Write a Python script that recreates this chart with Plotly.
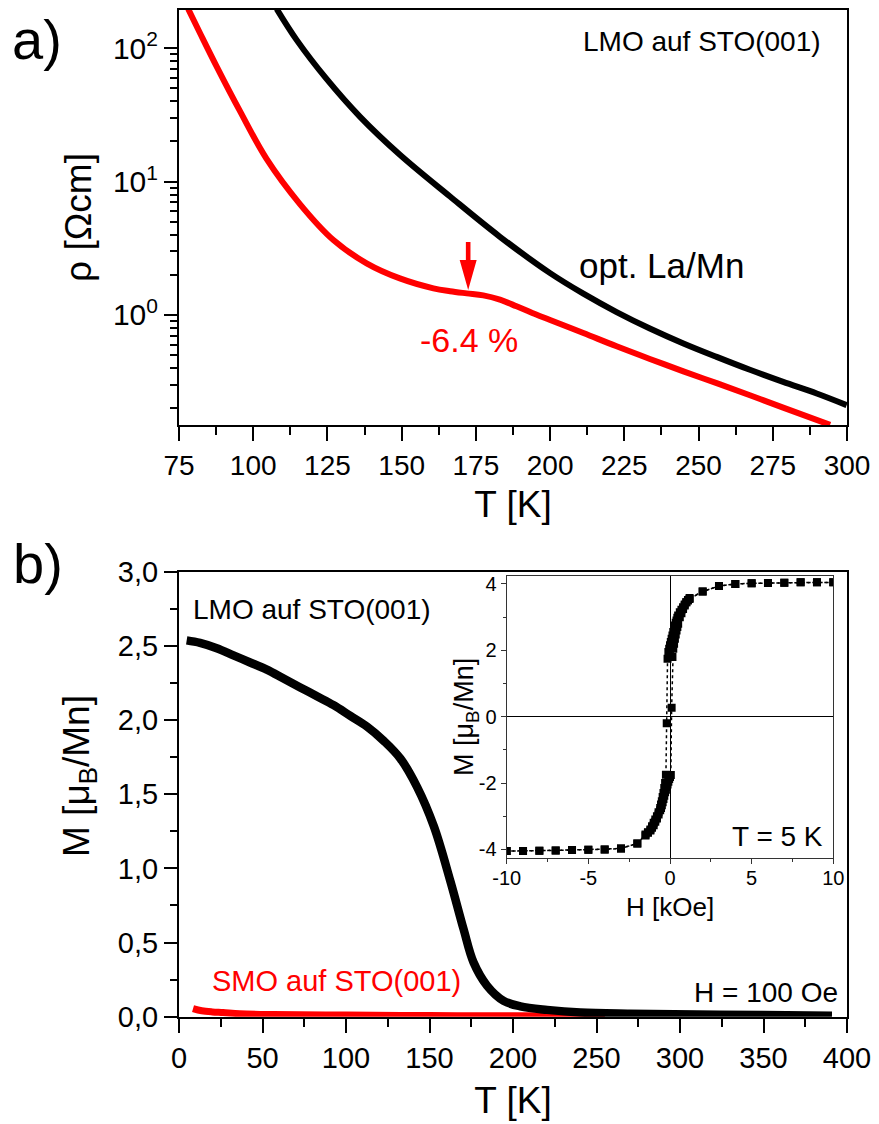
import plotly.graph_objects as go

# ---- (a) resistivity vs temperature ----
T_opt = [107.9, 114.6, 124.7, 136.0, 149.4, 166.3, 183.1, 200.0, 211.2, 222.4,
         233.6, 244.9, 256.1, 267.3, 278.5, 289.8, 299.9]
rho_opt = [197.2, 115.6, 58.9, 30.6, 15.9, 7.73, 3.86, 2.06, 1.445, 1.052,
           0.792, 0.612, 0.485, 0.388, 0.315, 0.258, 0.211]

T_red = [78.1, 82.1, 87.7, 95.5, 104.5, 115.8, 127.0, 138.2, 149.4, 160.7,
         166.3, 171.9, 177.5, 183.1, 188.7, 194.0, 200.0, 211.2, 222.4, 233.6,
         244.9, 256.1, 267.3, 278.5, 294.3]
rho_red = [197.2, 129.7, 72.9, 33.9, 14.8, 6.76, 3.65, 2.44, 1.88, 1.585,
           1.507, 1.452, 1.403, 1.303, 1.161, 1.035, 0.918, 0.733, 0.582, 0.468,
           0.378, 0.308, 0.250, 0.202, 0.150]

# ---- (b) magnetisation vs temperature, H = 100 Oe ----
T_lmo = [4.6, 12.6, 22.6, 32.6, 42.6, 52.6, 62.6, 72.6, 82.6, 92.6, 102.6,
         112.6, 122.6, 132.6, 142.6, 152.6, 162.6, 170.4, 176.4, 184.4, 194.4,
         204.4, 220.4, 240.4, 270, 310, 350, 391]
M_lmo = [2.537, 2.52, 2.484, 2.436, 2.388, 2.34, 2.28, 2.22, 2.16, 2.10, 2.028,
         1.956, 1.86, 1.74, 1.548, 1.284, 0.91, 0.59, 0.365, 0.21, 0.107,
         0.07, 0.046, 0.028, 0.02, 0.015, 0.012, 0.006]

T_smo = [8.4, 13.6, 20, 26.4, 36.4, 56.4, 100, 150, 200, 255]
M_smo = [0.055, 0.04, 0.032, 0.028, 0.02, 0.015, 0.011, 0.008, 0.006, 0.005]

# ---- inset: hysteresis loop at T = 5 K ----
H_down = [10, 9, 8, 7, 6, 5, 4, 3, 2,
          1.2, 1.1, 1.0, 0.9, 0.8, 0.7, 0.6, 0.5,
          0.45, 0.4, 0.35, 0.3, 0.25, 0.2, 0.15, 0.1, 0.05, 0.0,
          -0.05, -0.1, -0.15, -0.2, -0.25, -0.3, -0.35, -0.4, -0.45, -0.5,
          -0.55, -0.6, -0.7, -0.8, -0.9, -1.0, -1.1, -1.2, -1.35, -1.5,
          -2, -3, -4, -5, -6, -7, -8, -9, -10]
M_down = [4.05, 4.05, 4.05, 4.04, 4.03, 4.02, 4.0, 3.94, 3.77,
          3.55, 3.5, 3.45, 3.38, 3.3, 3.22, 3.15, 3.05,
          2.98, 2.9, 2.83, 2.75, 2.65, 2.55, 2.45, 2.35, 2.25, 2.15,
          2.05, 1.95, 1.75, -0.2, -1.75, -2.0, -2.15, -2.3, -2.42, -2.55,
          -2.65, -2.75, -2.88, -3.0, -3.1, -3.2, -3.3, -3.4, -3.48, -3.55,
          -3.82, -3.97, -4.0, -4.01, -4.02, -4.03, -4.04, -4.05, -4.05]
H_up = [-10, -9, -8, -7, -6, -5, -4, -3, -2,
        -1.5, -1.35, -1.2, -1.1, -1.0, -0.9, -0.8, -0.7, -0.6, -0.55,
        -0.5, -0.45, -0.4, -0.35, -0.3, -0.25, -0.2, -0.15, -0.1, -0.05,
        0.0, 0.05, 0.1, 0.15, 0.2, 0.25, 0.3, 0.35, 0.4, 0.45,
        0.5, 0.6, 0.7, 0.8, 0.9, 1.0, 1.1, 1.2,
        2, 3, 4, 5, 6, 7, 8, 9, 10]
M_up = [-4.05, -4.05, -4.04, -4.03, -4.02, -4.01, -4.0, -3.97, -3.82,
        -3.58, -3.5, -3.43, -3.35, -3.27, -3.17, -3.07, -2.95, -2.82, -2.75,
        -2.67, -2.58, -2.48, -2.38, -2.28, -2.2, -2.12, -2.04, -1.96, -1.88,
        -1.82, -1.76, 0.27, 1.8, 2.05, 2.2, 2.35, 2.48, 2.6, 2.7,
        2.8, 3.0, 3.12, 3.25, 3.35, 3.45, 3.52, 3.58,
        3.77, 3.94, 4.0, 4.02, 4.03, 4.04, 4.05, 4.05, 4.05]

# tick positions and labels
xa_ticks = [75, 100, 125, 150, 175, 200, 225, 250, 275, 300]
ya_ticks = [1, 10, 100]
ya_text = ["10<sup>0</sup>", "10<sup>1</sup>", "10<sup>2</sup>"]
ya_minor = [0.2, 0.3, 0.4, 0.5, 0.6, 0.7, 0.8, 0.9,
            2, 3, 4, 5, 6, 7, 8, 9, 20, 30, 40, 50, 60, 70, 80, 90]
xb_ticks = [0, 50, 100, 150, 200, 250, 300, 350, 400]
yb_ticks = [0, 0.5, 1.0, 1.5, 2.0, 2.5, 3.0]
yb_text = ["0,0", "0,5", "1,0", "1,5", "2,0", "2,5", "3,0"]
xi_ticks = [-10, -5, 0, 5, 10]
xi_text = ["-10", "-5", "0", "5", "10"]
yi_ticks = [-4, -2, 0, 2, 4]
yi_text = ["-4", "-2", "0", "2", "4"]

FONT = "Arial, Liberation Sans, sans-serif"
RED = "#ff0000"
W, H = 879, 1124

fig = go.Figure()

fig.add_trace(go.Scatter(x=T_opt, y=rho_opt, mode="lines", xaxis="x", yaxis="y",
                         line=dict(color="black", width=6, shape="spline")))
fig.add_trace(go.Scatter(x=T_red, y=rho_red, mode="lines", xaxis="x", yaxis="y",
                         line=dict(color=RED, width=6, shape="spline")))

fig.add_trace(go.Scatter(x=T_smo, y=M_smo, mode="lines", xaxis="x2", yaxis="y2",
                         line=dict(color=RED, width=7, shape="spline")))
fig.add_trace(go.Scatter(x=T_lmo, y=M_lmo, mode="lines", xaxis="x2", yaxis="y2",
                         line=dict(color="black", width=8.5, shape="spline")))

for hx, my in ((H_down, M_down), (H_up, M_up)):
    fig.add_trace(go.Scatter(x=hx, y=my, mode="lines+markers", xaxis="x3", yaxis="y3",
                             line=dict(color="black", width=1.5, dash="dot"),
                             marker=dict(symbol="square", size=8, color="black")))

xdom = [179 / W, 847 / W]


def main_axis(size=29):
    return dict(showline=True, mirror=True, linewidth=2, linecolor="black",
                ticks="outside", tickwidth=2, tickcolor="black",
                showgrid=False, zeroline=False, automargin=False,
                tickfont=dict(family=FONT, size=size, color="black"))


def inset_axis():
    return dict(showline=True, mirror=True, linewidth=1.3, linecolor="#333",
                ticks="outside", ticklen=5, tickwidth=1.3, tickcolor="#333",
                showgrid=False, automargin=False,
                zeroline=True, zerolinecolor="black", zerolinewidth=1.3,
                tickfont=dict(family=FONT, size=20, color="black"))


fig.update_layout(
    template="none",
    width=W, height=H,
    margin=dict(l=0, r=0, t=0, b=0, pad=0),
    paper_bgcolor="white", plot_bgcolor="white",
    showlegend=False,
    font=dict(family=FONT, color="black"),
    xaxis=dict(domain=xdom, anchor="y", range=[75, 300],
               tickvals=xa_ticks, ticklen=14,
               minor=dict(dtick=12.5, tick0=75, ticks="outside", ticklen=8,
                          tickwidth=2, tickcolor="black"),
               title=dict(text="T [K]", font=dict(family=FONT, size=37), standoff=12),
               **main_axis(28)),
    yaxis=dict(domain=[1 - 425 / H, 1 - 10 / H], anchor="x", type="log",
               range=[-0.825, 2.287], tickvals=ya_ticks, ticktext=ya_text, ticklen=13,
               minor=dict(tickvals=ya_minor, ticks="outside", ticklen=7,
                          tickwidth=2, tickcolor="black"),
               title=dict(text="ρ [Ωcm]", font=dict(family=FONT, size=37), standoff=10),
               **main_axis(30)),
    xaxis2=dict(domain=xdom, anchor="y2", range=[0, 400],
                tickvals=xb_ticks, ticklen=14,
                minor=dict(dtick=25, tick0=0, ticks="outside", ticklen=8,
                           tickwidth=2, tickcolor="black"),
                title=dict(text="T [K]", font=dict(family=FONT, size=37), standoff=15),
                **main_axis(29)),
    yaxis2=dict(domain=[1 - 1016.7 / H, 1 - 571.7 / H], anchor="x2",
                range=[0, 3.0], tickvals=yb_ticks, ticktext=yb_text, ticklen=13,
                minor=dict(dtick=0.25, tick0=0, ticks="outside", ticklen=7,
                           tickwidth=2, tickcolor="black"),
                **main_axis(29)),
    xaxis3=dict(domain=[506.7 / W, 833.3 / W], anchor="y3", range=[-10, 10],
                tickvals=xi_ticks, ticktext=xi_text, ticklabelstandoff=-3,
                minor=dict(dtick=2.5, tick0=0, ticks="outside", ticklen=3,
                           tickwidth=1.3, tickcolor="#333"),
                **inset_axis()),
    yaxis3=dict(domain=[1 - 857.7 / H, 1 - 575.7 / H], anchor="x3",
                range=[-4.25, 4.25], tickvals=yi_ticks, ticktext=yi_text,
                minor=dict(dtick=1, tick0=0, ticks="outside", ticklen=3,
                           tickwidth=1.3, tickcolor="#333"),
                **inset_axis()),
)

# red marker arrow at the kink of the strained film
fig.add_shape(type="path", xref="x", yref="y", xsizemode="pixel", ysizemode="pixel",
              xanchor=172.4, yanchor=1.54,
              path="M0,0 L-8.5,30 L-2.3,30 L-2.3,48 L2.3,48 L2.3,30 L8.5,30 Z",
              fillcolor=RED, line=dict(width=0))


def label(text, x, y, ref, size, color="black", xanchor="left", angle=0):
    fig.add_annotation(text=text, x=x, y=y, xref=ref[0], yref=ref[1], showarrow=False,
                       xanchor=xanchor, yanchor="middle", textangle=angle,
                       font=dict(family=FONT, size=size, color=color))


# axis titles placed by hand (panel b y axis and the inset)
label("M [μ<sub>B</sub>/Mn]", 79 / W, 1 - 776 / H, ("paper", "paper"), 37,
      xanchor="center", angle=-90)
label("M [μ<sub>B</sub>/Mn]", 466 / W, 1 - 717 / H, ("paper", "paper"), 27,
      xanchor="center", angle=-90)
label("H [kOe]", 670 / W, 1 - 907 / H, ("paper", "paper"), 26, xanchor="center")

label("LMO auf STO(001)", 0.9641, 0.9229, ("x domain", "y domain"), 28, xanchor="right")
label("opt. La/Mn", 0.5958, 0.3855, ("x domain", "y domain"), 35)
label("-6.4 %", 0.4341, 0.2048, ("x domain", "y domain"), 34, color=RED, xanchor="center")
label("LMO auf STO(001)", 0.018, 0.915, ("x2 domain", "y2 domain"), 28)
label("SMO auf STO(001)", 0.0464, 0.0802, ("x2 domain", "y2 domain"), 29, color=RED)
label("H = 100 Oe", 0.9895, 0.0533, ("x2 domain", "y2 domain"), 28, xanchor="right")
label("T = 5 K", 0.9746, 0.0745, ("x3 domain", "y3 domain"), 28, xanchor="right")
label("a)", 37 / W, 1 - 40 / H, ("paper", "paper"), 56, xanchor="center")
label("b)", 38 / W, 1 - 563 / H, ("paper", "paper"), 56, xanchor="center")

fig.write_html("out.html")
